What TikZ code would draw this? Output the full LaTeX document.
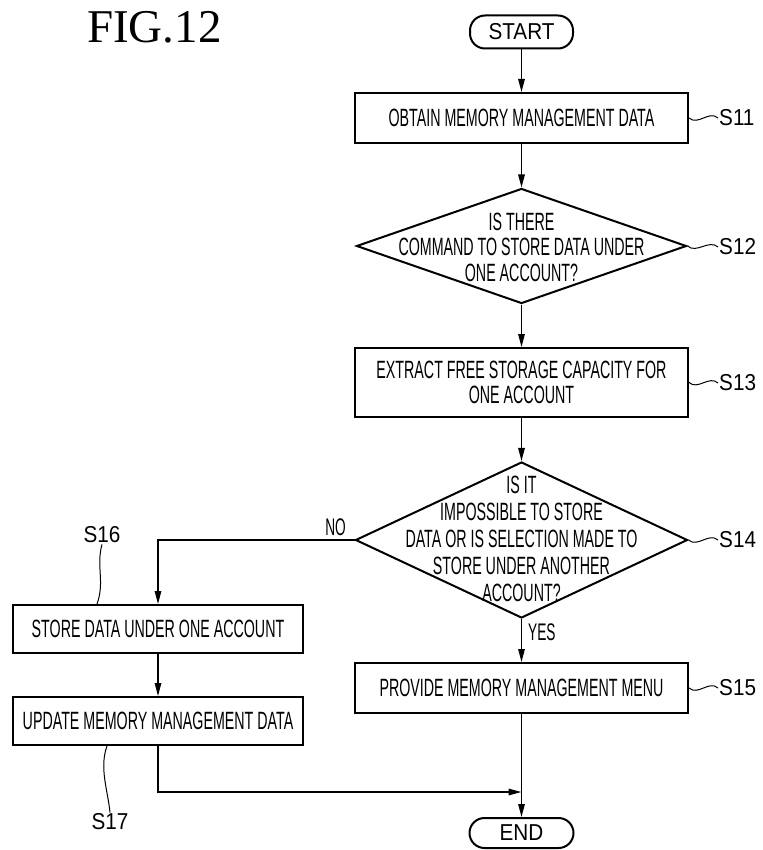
\documentclass[tikz,border=0pt]{standalone}
\usepackage{fontspec}
\setmainfont{Liberation Sans}
\newfontfamily\condf{Liberation Sans}[FakeStretch=0.57]
\newfontfamily\lblf{Liberation Sans}[FakeStretch=0.9]
\newfontfamily\figf{Liberation Serif}
\usetikzlibrary{shapes.geometric,arrows.meta}
\newcommand\bxfont{\condf\fontsize{25}{25.5}\selectfont}
\newcommand\dfont{\condf\fontsize{25}{27}\selectfont}
\newcommand\lbfont{\lblf\fontsize{23}{25}\selectfont}
\begin{document}
\begin{tikzpicture}[x=1pt,y=-1pt,
  box/.style={draw,line width=2pt,minimum width=333pt,minimum height=50pt,inner sep=0pt,align=center,font=\bxfont},
  lbox/.style={box,minimum width=290pt,minimum height=48pt},
  dia/.style={draw,line width=2pt,diamond,inner sep=0pt},
  term/.style={draw,line width=2pt,rounded corners=15pt,minimum width=103pt,minimum height=33pt,inner sep=0pt,font=\lbfont},
  steplbl/.style={font=\lbfont,inner sep=1pt},
  yn/.style={font=\condf\fontsize{24}{26}\selectfont,inner sep=0pt},
  arr/.style={line width=1.4pt,-{Triangle[length=13pt,width=6.5pt]}},
  conn/.style={line width=1.4pt},
  wig/.style={line width=1pt}
]
\fill[white] (0,0) rectangle (762,850);
\useasboundingbox (0,0) rectangle (762,850);

\node[font=\figf\fontsize{47}{50}\selectfont,inner sep=0pt,anchor=base west] (fig) at (87,43) {FIG.12};

\node[term] (start) at (521.5,32) {START};
\node[box] (s11) at (521.5,118) {OBTAIN MEMORY MANAGEMENT DATA};
\node[dia,minimum width=330pt,minimum height=115pt] (s12) at (521.5,246) {};
\node[font=\condf\fontsize{25}{25.5}\selectfont,align=center,inner sep=0pt] (t12) at (521.5,247) {IS THERE\\COMMAND TO STORE DATA UNDER\\ONE ACCOUNT?};
\node[box,minimum height=69pt] (s13) at (521.5,382.5) {EXTRACT FREE STORAGE CAPACITY FOR\\[-1pt]ONE ACCOUNT};
\node[dia,minimum width=332pt,minimum height=156pt] (s14) at (521.5,540) {};
\node[font=\dfont,align=center,inner sep=0pt] (t14) at (521.5,539) {IS IT\\IMPOSSIBLE TO STORE\\DATA OR IS SELECTION MADE TO\\STORE UNDER ANOTHER\\ACCOUNT?};
\node[box] (s15) at (521.5,688) {PROVIDE MEMORY MANAGEMENT MENU};
\node[term,minimum width=104pt,minimum height=30pt] (end) at (521.5,833) {END};

\node[lbox] (s16) at (158,629) {STORE DATA UNDER ONE ACCOUNT};
\node[lbox] (s17) at (158,721) {UPDATE MEMORY MANAGEMENT DATA};

% step labels
\node[steplbl,anchor=west] (l11) at (718,118) {S11};
\node[steplbl,anchor=west] (l12) at (718,247) {S12};
\node[steplbl,anchor=west] (l13) at (718,383) {S13};
\node[steplbl,anchor=west] (l14) at (718,540) {S14};
\node[steplbl,anchor=west] (l15) at (718,688) {S15};
\node[steplbl] (l16) at (102,535) {S16};
\node[steplbl] (l17) at (110,822) {S17};

\draw[wig] (s11.east) .. controls +(9,8) and +(-9,-8) .. (l11.west);
\draw[wig] (s12.east) .. controls +(9,8) and +(-9,-8) .. (l12.west);
\draw[wig] (s13.east) .. controls +(9,8) and +(-9,-8) .. (l13.west);
\draw[wig] (s14.east) .. controls +(9,8) and +(-9,-8) .. (l14.west);
\draw[wig] (s15.east) .. controls +(9,8) and +(-9,-8) .. (l15.west);
\draw[wig] ([xshift=-61pt]s16.north) .. controls +(8,-22) and +(-6,22) .. (l16.south);
\draw[wig] ([xshift=-51pt]s17.south) .. controls +(-8,22) and +(-2,-22) .. (l17.north);

% connectors
\draw[arr] (start) -- (s11);
\draw[arr] (s11) -- (s12);
\draw[arr] (s12) -- (s13);
\draw[arr] (s13) -- (s14);
\draw[arr] (s14) -- node[yn,anchor=west,pos=0.3,xshift=6pt] {YES} (s15);
\draw[arr] (s15) -- (end);
\draw[arr] (s14.west) -- node[yn,anchor=south east,pos=0.0,xshift=-8pt,yshift=4pt] {NO} (s14.west -| s16.north) -- (s16.north);
\draw[arr] (s16) -- (s17);
\coordinate (join) at (s15.south |- 0,792);
\draw[arr] (s17.south) |- (join);
\end{tikzpicture}
\end{document}
